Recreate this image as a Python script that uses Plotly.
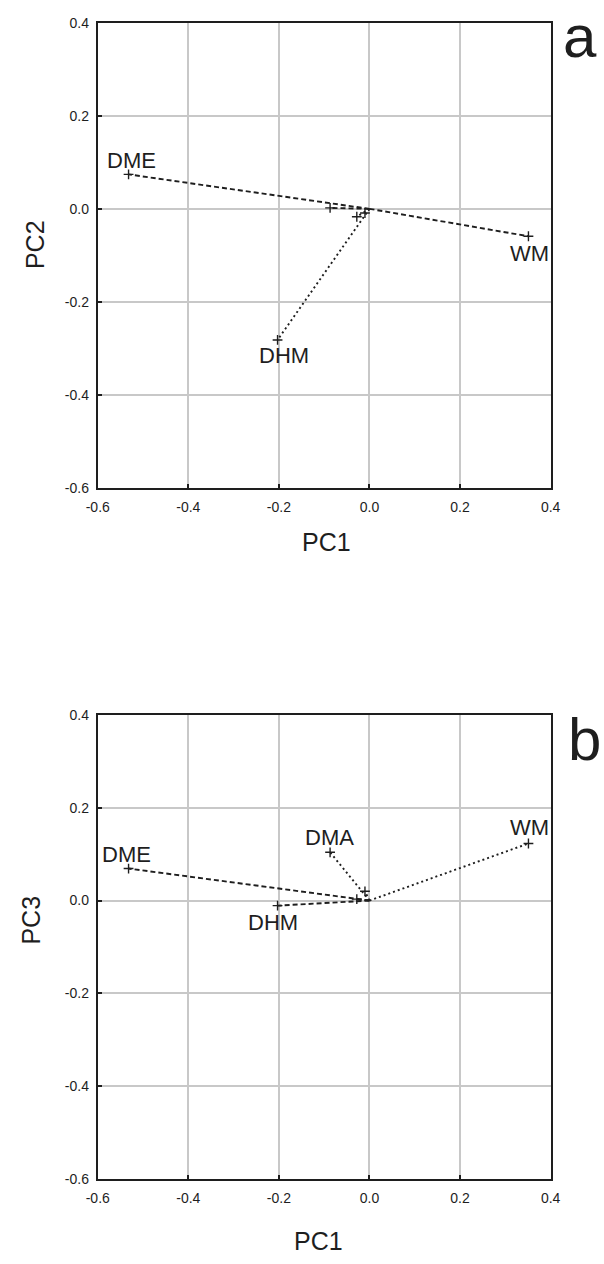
import plotly.graph_objects as go

# ---- data (loadings) ----
variables = ["DME", "WM", "DHM", "DMA", "V5", "V6"]
pc1 = [-0.532, 0.351, -0.203, -0.087, -0.028, -0.010]
pc2 = [0.074, -0.059, -0.282, 0.002, -0.017, -0.009]
pc3 = [0.069, 0.123, -0.011, 0.104, 0.003, 0.020]

top_labels = ["DME", "WM", "DHM", "", "", ""]
bottom_labels = ["DME", "WM", "DHM", "DMA", "", ""]

tick_vals = [-0.6, -0.4, -0.2, 0.0, 0.2, 0.4]
tick_text = ["-0.6", "-0.4", "-0.2", "0.0", "0.2", "0.4"]

# ---- styles ----
top_dash = ["5px,3px", "5px,3px", "2px,3px", "5px,3px", "2px,3px", "2px,3px"]
bottom_dash = ["5px,3px", "2px,3px", "5px,3px", "2px,3px", "5px,3px", "2px,3px"]
top_shift = [(3, 14), (1, -17), (6, -16), (0, 0), (0, 0), (0, 0)]
bottom_shift = [(-2, 14), (1, 16), (-5, -17), (-1, 15), (0, 0), (0, 0)]

W, H = 604, 1264
FONT = "Arial, Liberation Sans, sans-serif"
INK = "#1e1e1e"

fig = go.Figure()


def add_panel(xs, ys, dashes, xa, ya):
    for x, y, d in zip(xs, ys, dashes):
        fig.add_trace(go.Scatter(
            x=[0, x], y=[0, y], mode="lines",
            line=dict(color=INK, width=1.9, dash=d),
            xaxis=xa, yaxis=ya, showlegend=False, hoverinfo="skip"))
    fig.add_trace(go.Scatter(
        x=xs, y=ys, mode="markers",
        marker=dict(symbol="cross-thin", size=7, line=dict(color=INK, width=1.4)),
        xaxis=xa, yaxis=ya, showlegend=False, hoverinfo="skip"))


add_panel(pc1, pc2, top_dash, "x", "y")
add_panel(pc1, pc3, bottom_dash, "x2", "y2")

annotations = []
for x, y, lab, (dx, dy) in zip(pc1, pc2, top_labels, top_shift):
    if lab:
        annotations.append(dict(x=x, y=y, xref="x", yref="y", text=lab, showarrow=False,
                                xshift=dx, yshift=dy, font=dict(family=FONT, size=22, color=INK)))
for x, y, lab, (dx, dy) in zip(pc1, pc3, bottom_labels, bottom_shift):
    if lab:
        annotations.append(dict(x=x, y=y, xref="x2", yref="y2", text=lab, showarrow=False,
                                xshift=dx, yshift=dy, font=dict(family=FONT, size=22, color=INK)))


def px(xp, yp, text, size, angle=0):
    annotations.append(dict(x=xp / W, y=1 - yp / H, xref="paper", yref="paper", text=text,
                            showarrow=False, xanchor="center", yanchor="middle", textangle=angle,
                            font=dict(family=FONT, size=size, color=INK)))


px(326, 541, "PC1", 25)
px(24, 240, "PC2", 25, -90)
px(318, 1249, "PC1", 25)
px(20, 924, "PC3", 25, -90)
px(589, 29, "a", 60)
px(594, 741, "b", 60)

axis_common = dict(
    range=[-0.6, 0.4], tickvals=tick_vals, ticktext=tick_text,
    showgrid=True, gridcolor="#c8c8c8", gridwidth=1.6, zeroline=False,
    showline=True, linecolor=INK, linewidth=2, mirror=True,
    ticks="inside", ticklen=4, tickcolor=INK, tickwidth=1.5,
    tickfont=dict(family=FONT, size=14, color=INK), fixedrange=True,
)

xdom = [89 / W, 559 / W]
fig.update_layout(
    width=W, height=H, autosize=False,
    margin=dict(l=0, r=0, t=0, b=0),
    paper_bgcolor="white", plot_bgcolor="white",
    xaxis=dict(domain=xdom, anchor="y", ticklabelstandoff=5, **axis_common),
    yaxis=dict(domain=[1 - 486 / H, 1 - 15 / H], anchor="x", ticklabelstandoff=4, **axis_common),
    xaxis2=dict(domain=xdom, anchor="y2", ticklabelstandoff=5, **axis_common),
    yaxis2=dict(domain=[1 - 1186 / H, 1 - 716 / H], anchor="x2", ticklabelstandoff=4, **axis_common),
    annotations=annotations,
)

fig.write_html("out.html")
